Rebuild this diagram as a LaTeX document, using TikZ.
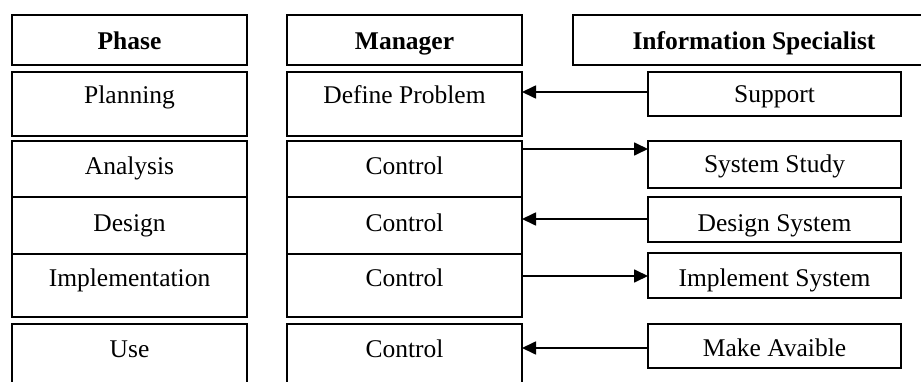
\documentclass[tikz,border=0pt]{standalone}
\usepackage{fontspec}
\setmainfont{Liberation Serif}
\usetikzlibrary{arrows.meta}

\tikzset{
  cell/.style={draw, line width=1.7pt, rectangle, inner xsep=0pt, inner ysep=0pt,
    outer sep=0pt, anchor=north west, font=\fontsize{25.5}{30}\selectfont},
  head/.style={cell, minimum width=235pt, text height=35pt, text depth=15pt},
  arr/.style={line width=1.7pt, -{Triangle[length=14pt, width=13pt]}}
}

\begin{document}
\begin{tikzpicture}[x=1pt, y=-1pt]
\useasboundingbox (0,0) rectangle (921,382);
\clip (0,0) rectangle (921,382);

% column headers
\node[head] (phH) at (12,15) {\textbf{Phase}};
\node[head] (mgH) at (287,15) {\textbf{Manager}};
\node[head, minimum width=362pt] (isH) at (573,15) {\textbf{Information Specialist}};

% phase column
\node[cell, minimum width=235pt, text height=32pt, text depth=32pt] (p1) at (12,72) {Planning};
\node[cell, minimum width=235pt, text height=34pt, text depth=22pt] (p2) at (12,141) {Analysis};
\node[cell, minimum width=235pt, text height=34.5pt, text depth=22.5pt] (p3) at (12,197) {Design};
\node[cell, minimum width=235pt, text height=33pt, text depth=30pt] (p4) at (12,254) {Implementation};
\node[cell, minimum width=235pt, text height=33pt, text depth=47pt] (p5) at (12,324) {Use};

% manager column
\node[cell, minimum width=235pt, text height=32pt, text depth=32pt] (m1) at (287,72) {Define Problem};
\node[cell, minimum width=235pt, text height=34pt, text depth=22pt] (m2) at (287,141) {Control};
\node[cell, minimum width=235pt, text height=34.5pt, text depth=22.5pt] (m3) at (287,197) {Control};
\node[cell, minimum width=235pt, text height=33pt, text depth=30pt] (m4) at (287,254) {Control};
\node[cell, minimum width=235pt, text height=33pt, text depth=47pt] (m5) at (287,324) {Control};

% information specialist column
\node[cell, minimum width=253pt, text height=31pt, text depth=13pt] (s1) at (648,72) {Support};
\node[cell, minimum width=253pt, text height=32pt, text depth=15pt] (s2) at (648,141) {System Study};
\node[cell, minimum width=253pt, text height=34.5pt, text depth=10.5pt] (s3) at (648,197) {Design System};
\node[cell, minimum width=253pt, text height=33.5pt, text depth=11.5pt] (s4) at (648,253) {Implement System};
\node[cell, minimum width=253pt, text height=32.5pt, text depth=11.5pt] (s5) at (648,324) {Make Avaible};

% hand-offs between manager and specialist
\draw[arr] (s1.west |- 0,92) -- (m1.east |- 0,92);
\draw[arr] (m2.east |- 0,149) -- (s2.west |- 0,149);
\draw[arr] (s3.west |- 0,219) -- (m3.east |- 0,219);
\draw[arr] (m4.east |- 0,276) -- (s4.west |- 0,276);
\draw[arr] (s5.west |- 0,348) -- (m5.east |- 0,348);
\end{tikzpicture}
\end{document}
